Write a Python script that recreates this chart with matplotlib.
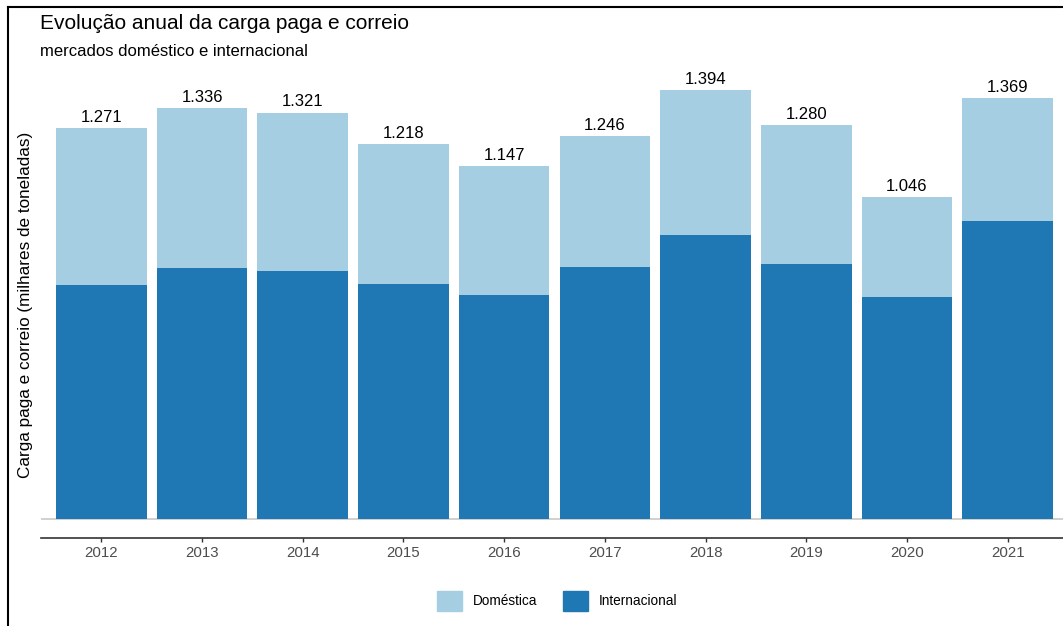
import matplotlib.pyplot as plt
import numpy as np
from matplotlib.patches import Patch
from matplotlib.lines import Line2D

plt.rcParams['font.family'] = ['Liberation Sans', 'DejaVu Sans']

anos = ["2012", "2013", "2014", "2015", "2016", "2017", "2018", "2019", "2020", "2021"]
total = [1271, 1336, 1321, 1218, 1147, 1246, 1394, 1280, 1046, 1369]
internacional = [761, 815, 806, 763, 727, 818, 923, 828, 721, 968]
domestica = [t - i for t, i in zip(total, internacional)]

cor_dom = "#a6cee3"
cor_int = "#1f78b4"

fig = plt.figure(figsize=(10.63, 6.26), dpi=100)
ax = fig.add_axes([41/1063, 1 - 538/626, 1027/1063, (538 - 71)/626])

x = np.arange(len(anos))
ax.bar(x, internacional, width=0.9, color=cor_int, linewidth=0)
ax.bar(x, domestica, width=0.9, bottom=internacional, color=cor_dom, linewidth=0)

for xi, t in zip(x, total):
    ax.text(xi, t + 10, f"{t:,}".replace(",", "."), ha="center", va="bottom",
            fontsize=12, color="black")

ax.axhline(0, color="#c8c8c8", linewidth=1.2, zorder=0)
ax.set_xlim(-0.6, 9.6)
ax.set_ylim(-62, 1456)
ax.set_xticks(x)
ax.set_xticklabels(anos, fontsize=10.8, color="#4d4d4d")
ax.set_yticks([])
ax.tick_params(axis="x", length=3, width=1, color="#333333", pad=3)
for s in ["top", "right", "left"]:
    ax.spines[s].set_visible(False)
ax.spines["bottom"].set_color("#333333")
ax.spines["bottom"].set_linewidth(1.2)
ax.set_ylabel("Carga paga e correio (milhares de toneladas)", fontsize=12.3, labelpad=6)

fig.text(40/1063, 1 - 29/626, "Evolução anual da carga paga e correio", fontsize=15,
         ha="left", va="baseline")
fig.text(40/1063, 1 - 56/626, "mercados doméstico e internacional", fontsize=12,
         ha="left", va="baseline")

handles = [Patch(color=cor_dom, label="Doméstica"), Patch(color=cor_int, label="Internacional")]
fig.legend(handles=handles, loc="center", bbox_to_anchor=(557/1063, 1 - 601/626), ncol=2,
           frameon=False, fontsize=9.8, handlelength=1.85, handleheight=1.85,
           handletextpad=0.75, columnspacing=1.9)

# moldura
fig.add_artist(Line2D([8/1063, 1], [1 - 7/626, 1 - 7/626], color="black", linewidth=1.5))
fig.add_artist(Line2D([8/1063, 8/1063], [0, 1 - 7/626], color="black", linewidth=1.5))

fig.savefig("out.png", dpi=100)
